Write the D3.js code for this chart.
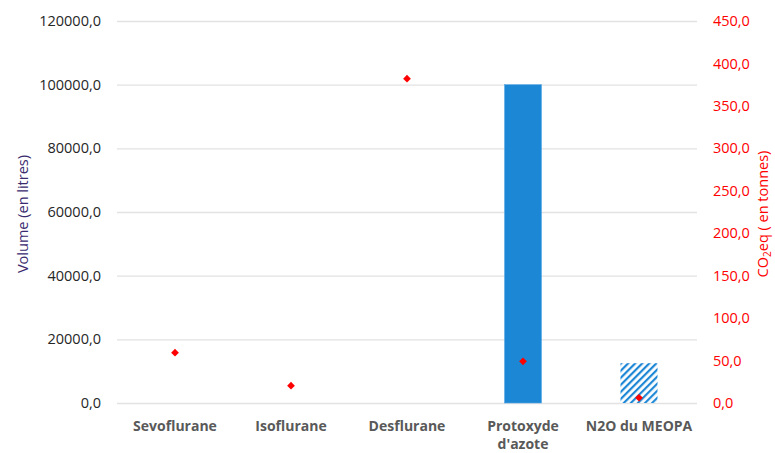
<!DOCTYPE html>
<html><head><meta charset="utf-8">
<script src="https://cdn.jsdelivr.net/npm/d3@7/dist/d3.min.js"></script>
<style>body{margin:0;background:#fff}svg{display:block}</style>
</head><body>
<script>
const categories = ["Sevoflurane","Isoflurane","Desflurane","Protoxyde d'azote","N2O du MEOPA"];
const volumes = [null, null, null, 100000, 12500];
const co2eq = [59.3, 20.4, 382, 49.1, 6.2];
const leftTicks = [0,20000,40000,60000,80000,100000,120000];
const rightTicks = [0,50,100,150,200,250,300,350,400,450];

const W=775,H=453;
const m={l:117,r:78,t:21,b:50};
const svg=d3.select("body").append("svg").attr("width",W).attr("height",H);
const font="'Open Sans', sans-serif";
const defs=svg.append("defs");
const pat=defs.append("pattern").attr("id","hatch").attr("patternUnits","userSpaceOnUse")
  .attr("width",5).attr("height",5).attr("patternTransform","rotate(45)");
pat.append("rect").attr("width",5).attr("height",5).attr("fill","#fff");
pat.append("rect").attr("x",0).attr("width",2.2).attr("height",5).attr("fill","#1f88d6");

const x=d3.scaleBand().domain(categories).range([m.l,W-m.r]);
const yL=d3.scaleLinear().domain([0,120000]).range([H-m.b,m.t]);
const yR=d3.scaleLinear().domain([0,450]).range([H-m.b,m.t]);
const fmt=d=>d3.format(".1f")(d).replace(".",",");

// gridlines
svg.append("g").selectAll("line").data(leftTicks).join("line")
  .attr("x1",m.l).attr("x2",W-m.r).attr("y1",d=>yL(d)+0.5).attr("y2",d=>yL(d)+0.5)
  .attr("stroke","#e2e2e2").attr("stroke-width",1.3);

// left axis
const gL=svg.append("g").attr("transform",`translate(${m.l-16},0)`)
  .call(d3.axisLeft(yL).tickValues(leftTicks).tickFormat(fmt).tickSize(0).tickPadding(0));
gL.select(".domain").remove();
gL.selectAll("text").attr("font-family",font).attr("font-size",14.5).attr("fill","#262626");

// right axis
const gR=svg.append("g").attr("transform",`translate(${W-m.r+16},0)`)
  .call(d3.axisRight(yR).tickValues(rightTicks).tickFormat(fmt).tickSize(0).tickPadding(0));
gR.select(".domain").remove();
gR.selectAll("text").attr("font-family",font).attr("font-size",14.5).attr("fill","#ff0000");

// bars
const bw=37;
svg.append("g").selectAll("rect").data(categories.map((c,i)=>({c,v:volumes[i],i})).filter(d=>d.v!=null)).join("rect")
  .attr("x",d=>x(d.c)+x.bandwidth()/2-bw/2).attr("width",bw)
  .attr("y",d=>yL(d.v)).attr("height",d=>yL(0)-yL(d.v))
  .attr("fill",d=>d.i===4?"url(#hatch)":"#1c88d5")
  .attr("stroke",d=>d.i===4?"none":"#5aa9e6").attr("stroke-width",0.6);

// diamonds
svg.append("g").selectAll("path").data(categories.map((c,i)=>({c,v:co2eq[i]}))).join("path")
  .attr("d",d3.symbol().type(d3.symbolDiamond2).size(38))
  .attr("transform",d=>`translate(${x(d.c)+x.bandwidth()/2},${yR(d.v)})`)
  .attr("fill","#ff0000");

// category labels
const cl=svg.append("g").selectAll("text").data(categories).join("text")
  .attr("x",d=>x(d)+x.bandwidth()/2).attr("y",431)
  .attr("text-anchor","middle").attr("font-family",font).attr("font-weight","bold")
  .attr("font-size",14).attr("fill","#595959");
cl.each(function(d){
  const t=d3.select(this);
  const parts = d==="Protoxyde d'azote" ? ["Protoxyde","d'azote"] : [d];
  parts.forEach((p,j)=>t.append("tspan").attr("x",x(d)+x.bandwidth()/2).attr("dy",j?18:0).text(p));
});

// axis titles
svg.append("text").attr("transform",`translate(28,${(yL(0)+yL(120000))/2+2}) rotate(-90)`)
  .attr("text-anchor","middle").attr("font-family",font).attr("font-size",14.5)
  .attr("fill","#3a2a6e").text("Volume (en litres)");
const rt=svg.append("text").attr("transform",`translate(768,${(yR(0)+yR(450))/2+2}) rotate(-90)`)
  .attr("text-anchor","middle").attr("font-family",font).attr("font-size",14.5).attr("fill","#ff0000");
rt.append("tspan").text("CO");
rt.append("tspan").attr("font-size",10).attr("dy",3).text("2");
rt.append("tspan").attr("dy",-3).text("eq ( en tonnes)");
</script>
</body></html>
